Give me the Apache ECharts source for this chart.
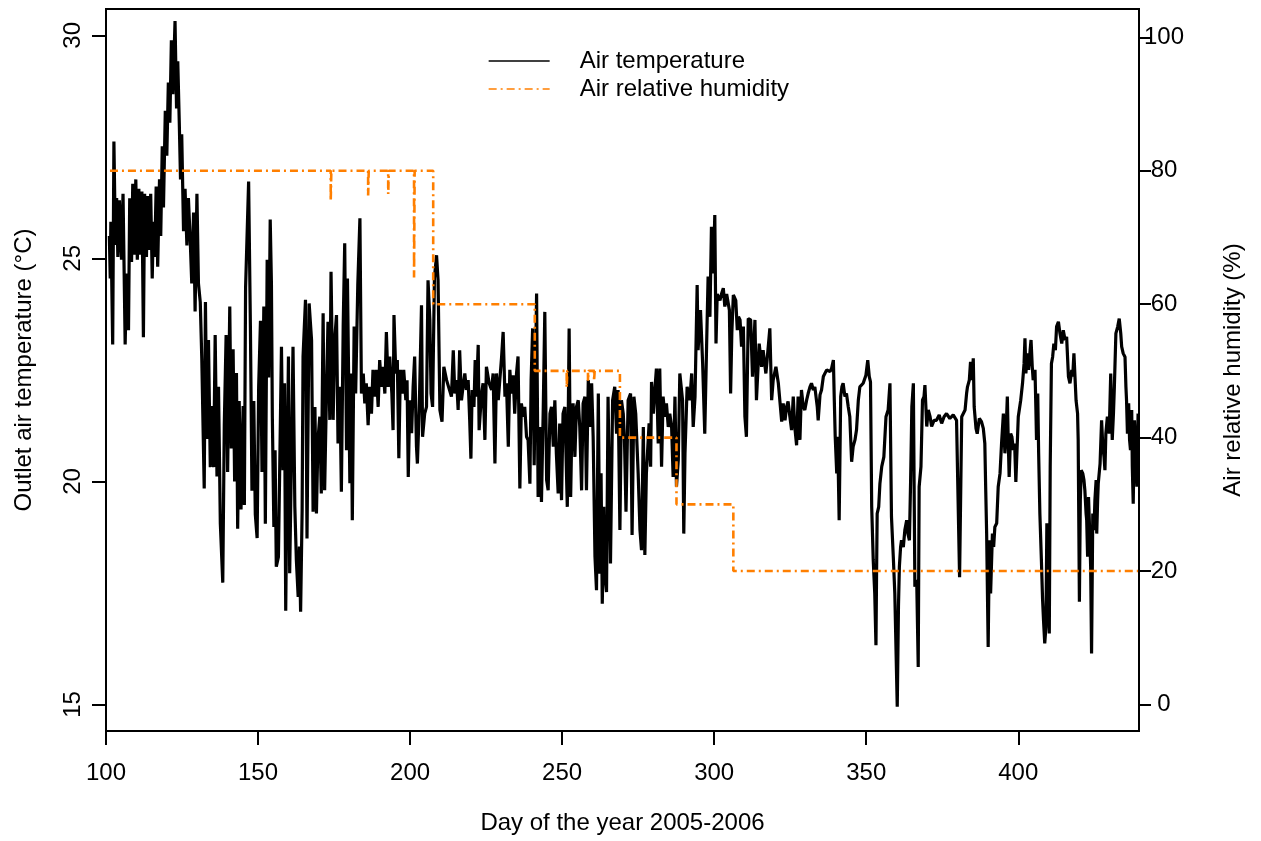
<!DOCTYPE html>
<html>
<head>
	<meta charset="utf-8">
	<title>Outlet air temperature and relative humidity</title>
	<script src="https://cdn.jsdelivr.net/npm/echarts@6/dist/echarts.min.js"></script>
	<style>
		html, body { margin: 0; padding: 0; background: #fff; }
		#main { width: 1261px; height: 841px; }
	</style>
</head>
<body>
	<div id="main"></div>
	<script>
		// tick labels
		var xTicks = [100, 150, 200, 250, 300, 350, 400];
		var tempTicks = [15, 20, 25, 30];
		var rhTicks = [0, 20, 40, 60, 80, 100];
		var seriesNames = ['Air temperature', 'Air relative humidity'];

		// [day of year, outlet air temperature in °C]
		var airTemperature = [
			[101.1,25.5],[101.4,24.55],[101.6,25.82],[102.2,23.07],[102.6,27.62],[103.1,25.3],[103.5,26.35],[103.9,25.03],
			[104.4,26.3],[105.1,24.97],[105.6,26.45],[106.3,23.07],[106.8,24.66],[107.4,23.39],[107.8,26.35],[108.4,24.92],
			[108.8,26.67],[109.3,25.08],[109.8,26.77],[110.3,24.97],[110.8,26.56],[111.3,25.08],[111.8,26.5],[112.3,23.23],
			[112.7,26.45],[113.3,25.03],[113.7,26.4],[114.3,25.19],[114.7,26.45],[115.2,24.55],[115.6,25.82],[116.0,25.03],
			[116.5,26.61],[117.0,24.81],[117.6,26.77],[118.0,25.5],[118.5,27.51],[118.9,26.14],[119.5,28.31],[120.0,27.3],
			[120.5,28.94],[121.0,28.04],[121.5,29.89],[122.0,28.68],[122.7,30.32],[123.2,28.36],[123.6,29.42],[124.1,28.04],
			[124.5,26.77],[124.9,27.78],[125.5,25.61],[126.0,26.56],[126.6,25.29],[127.1,26.35],[127.7,25.4],[128.2,24.44],
			[128.8,26.03],[129.3,23.81],[129.9,26.45],[130.4,24.44],[131.0,24.02],[131.5,22.75],[132.3,19.84],[132.7,24.02],
			[133.2,20.95],[133.7,23.17],[134.3,20.32],[134.8,21.69],[135.4,20.32],[135.9,23.28],[136.5,20.11],[137.0,22.12],
			[137.6,19.05],[138.4,17.73],[138.9,21.27],[139.5,23.28],[140.0,20.21],[140.7,23.92],[141.2,20.74],[141.8,22.96],
			[142.3,20.0],[142.9,22.43],[143.3,18.94],[143.8,21.8],[144.4,19.37],[145.1,21.69],[145.5,19.47],[145.9,24.34],
			[146.9,26.72],[147.5,23.39],[148.0,19.79],[148.6,21.8],[149.1,19.26],[149.7,18.73],[150.2,22.12],[150.8,23.6],
			[151.3,20.21],[151.9,23.92],[152.4,19.05],[153.0,24.97],[153.5,22.33],[154.0,25.87],
			[154.4,24.44],[154.7,21.45],[155.2,18.98],[155.6,20.7],[156.0,18.09],[156.7,18.31],[157.1,20.18],[157.7,23.02],
			[158.2,20.25],[158.7,22.2],[159.1,17.1],[159.6,20.55],[160.0,22.8],[160.4,17.94],[161.0,20.63],[161.5,23.02],
			[162.1,19.43],[162.6,18.24],[163.2,17.41],[163.6,18.54],[164.0,17.08],[164.5,19.36],[164.8,22.8],[165.6,24.07],
			[166.1,18.72],[166.8,23.99],[167.6,23.17],[168.1,19.32],[168.7,21.67],[169.2,19.28],[169.7,20.93],[170.3,21.45],
			[170.8,19.73],[171.4,23.77],[171.9,19.8],[172.5,21.97],[173.0,23.58],[173.6,21.38],[174.0,24.7],[174.7,21.38],
			[175.2,23.17],[175.8,23.73],[176.3,20.85],[176.9,22.12],[177.4,19.77],[178.0,23.47],[178.5,25.34],[179.1,20.7],
			[179.4,24.55],[180.2,19.96],[180.6,22.42],[181.0,19.13],[181.6,23.47],[182.1,21.97],[182.8,24.4],[183.5,25.9],
			[184.0,21.97],[184.6,22.42],[185.1,21.75],[185.6,22.2],[186.2,21.26],[186.7,22.12],[187.3,21.52],[187.8,22.5],
			[188.4,21.9],[188.9,22.5],[189.5,21.67],[190.0,22.72],[190.6,22.12],[191.1,22.57],[191.7,21.97],[192.2,23.35],
			[192.8,22.12],[193.3,22.8],[194.0,21.97],[194.4,21.15],[194.7,23.73],[195.3,22.42],[195.8,22.72],[196.3,20.52],
			[196.8,22.5],[197.4,21.97],[197.9,22.5],[198.6,21.82],[199.0,22.27],[199.4,20.1],[199.9,21.82],[200.5,21.08],
			[201.0,22.12],[201.5,22.8],[202.1,20.78],[202.4,20.4],[203.0,21.6],[203.75,23.95],[204.1,21.0],[204.8,21.52],
			[205.4,21.67],[205.9,24.51],[206.5,23.62],[206.9,21.97],[207.4,21.67],[208.0,24.55],[208.7,25.07],[209.2,24.51],
			[209.8,21.6],[210.5,21.34],[211.1,22.57],[212.0,22.27],
			[213.6,21.9],[214.2,22.94],[214.7,21.97],[215.3,22.27],[215.8,21.6],[216.3,22.94],[216.9,21.82],[217.4,22.12],
			[218.0,22.42],[218.5,22.05],[219.1,22.27],[219.6,21.37],[220.0,20.51],[220.4,22.05],[221.0,21.67],[221.4,22.72],
			[221.8,21.9],[222.4,23.06],[222.7,21.15],[223.5,21.97],[224.0,22.2],[224.6,20.93],[225.1,22.57],[226.0,22.2],
			[226.8,22.05],[227.3,22.42],[227.9,20.4],[228.4,22.42],[229.0,21.82],[229.5,22.27],[230.1,22.8],[230.6,23.35],
			[231.2,21.9],[231.7,22.2],[232.3,20.78],[232.8,22.5],[233.3,21.97],[233.9,22.38],[234.4,21.52],[235.0,22.42],
			[235.5,22.8],[236.1,19.84],[236.6,21.75],[237.2,21.45],[237.7,21.67],[238.3,21.0],[238.8,20.93],[239.4,19.95],
			[239.8,22.27],[240.3,23.43],[240.8,20.36],[241.6,24.21],[242.1,19.65],[242.7,21.22],[243.2,19.54],[243.8,21.67],
			[244.3,23.8],[244.9,20.03],[245.4,19.8],[246.0,21.52],[246.5,21.67],[247.1,20.78],[247.6,21.82],[248.1,20.63],
			[248.7,19.73],[249.2,21.3],[249.8,19.58],[250.3,21.52],[250.9,21.67],[251.7,19.43],[252.3,23.43],[252.8,19.65],
			[253.2,21.22],[253.6,21.75],[254.2,20.55],[254.7,21.67],[255.3,21.82],[255.8,21.22],[256.4,19.8],[256.9,21.75],
			[257.5,21.9],[258.0,19.8],[258.6,22.27],[259.1,21.22],[259.7,22.2],[260.2,21.0],[260.8,18.31],[261.3,17.56],
			[261.9,21.97],[262.4,17.93],[262.8,20.18],[263.2,17.26],[263.7,19.43],[264.0,17.93],[264.6,17.52],[265.1,21.9],
			[265.9,18.16],[266.6,21.82],
			[266.8,21.82],[267.3,22.12],[267.9,21.07],[268.4,22.05],[269.0,18.91],[269.5,21.82],[270.1,21.52],[270.5,20.93],
			[271.0,19.32],[271.7,21.82],[272.5,21.97],[273.0,18.8],[273.6,21.9],[274.2,21.52],[275.0,20.18],[275.6,18.91],
			[276.1,18.46],[276.7,21.22],[277.2,18.35],[277.7,20.18],[278.6,21.3],[279.1,20.33],[279.4,22.23],[280.0,21.52],
			[280.5,22.05],[281.0,22.53],[281.6,20.85],[282.1,22.53],[282.7,20.33],[283.2,21.9],[283.8,21.45],[284.3,21.75],
			[284.9,21.22],[285.4,21.52],[286.0,21.22],[286.5,20.1],[287.1,21.9],[287.6,19.88],[288.2,20.48],[288.7,22.42],
			[289.6,21.82],[290.0,18.83],[290.4,20.63],[291.1,22.12],[292.0,21.82],[292.6,22.42],[293.1,21.22],[293.7,21.9],
			[294.4,24.4],[294.7,22.94],[295.5,23.84],[296.2,22.65],[296.9,21.07],[297.5,23.02],[298.0,24.59],[298.6,23.69],
			[299.1,25.71],[299.7,24.66],[300.2,25.97],[300.6,23.09],[301.0,24.2],[301.9,24.06],[302.4,24.2],[303.0,24.33],
			[303.5,23.92],[304.1,24.2],[305.0,23.84],[305.4,21.97],[305.8,23.32],[306.3,24.18],[307.1,24.06],[307.6,23.39],
			[308.0,23.69],[308.5,23.62],[309.0,23.02],[309.6,23.47],[310.1,21.45],[310.6,21.0],[311.2,23.65],[312.0,23.62],
			[312.6,22.35],[313.4,23.62],[313.9,21.82],[314.8,23.09],[315.6,22.57],[316.1,22.94],[317.0,22.42],[317.4,22.72],
			[318.3,23.43],[318.9,21.82],[319.4,22.27],[320.3,22.57],[321.1,22.2],
			[322.2,21.34],[322.7,21.75],[323.3,21.37],[323.8,21.67],[324.3,21.79],[324.9,21.45],[325.45,21.15],[326.0,21.9],
			[326.5,21.23],[327.1,20.81],[327.6,21.9],[328.2,20.93],[328.7,22.05],[329.3,21.67],[329.8,21.6],[330.4,21.82],
			[330.9,21.97],[331.5,22.12],[332.0,22.2],[332.6,22.05],[333.1,22.12],[333.9,21.67],[334.2,21.37],[334.8,21.94],
			[335.3,22.05],[335.9,22.35],[337.0,22.5],[338.1,22.46],[338.6,22.53],[339.2,22.72],[339.5,21.82],[339.8,21.0],
			[340.3,20.18],[340.6,21.0],[341.1,19.13],[341.6,21.9],[342.0,22.12],[342.4,22.2],[343.0,21.9],[343.5,21.97],
			[344.1,21.67],[344.6,21.45],[345.2,20.44],[345.7,20.78],[346.3,20.93],[346.8,21.15],[347.4,21.82],[347.9,22.12],
			[349.0,22.2],[349.9,22.38],[350.5,22.72],[351.0,22.35],[351.4,22.23],[351.8,19.43],[352.3,18.24],[352.8,17.49],
			[353.2,16.33],[353.4,17.94],[353.6,19.28],[354.1,19.43],[354.5,19.95],[355.1,20.33],[355.8,20.55],[356.5,21.45],
			[357.2,21.6],[357.8,22.2],[358.3,19.21],[358.9,18.31],[359.4,17.49],[360.2,14.95],[360.6,17.19],[360.9,18.09],
			[361.3,18.53],[361.6,18.68],[362.2,18.53],[362.7,18.91],[363.3,19.13],[363.7,18.83],[364.2,18.68],[364.6,20.03],
			[365.0,21.67],[365.5,22.2],[365.8,19.43],[366.0,17.64],[366.6,17.79],[367.1,15.84],[367.4,19.88],[368.0,20.33],
			[368.5,21.82],[369.0,21.9],[369.3,22.16],[369.9,21.23],[370.4,21.6],[371.0,21.45],[371.5,21.23],[372.3,21.37],
			[373.1,21.37],[374.0,21.49],[374.8,21.3],[375.6,21.45],[376.4,21.52],[377.5,21.41],[378.6,21.49],[379.7,21.37],
			[380.3,21.37],[380.7,17.85],
			[381.4,21.45],[381.9,21.49],[382.5,21.6],[383.0,21.97],[383.3,22.12],[383.9,22.27],[384.3,22.68],[384.8,22.27],
			[385.2,22.76],[385.5,21.67],[386.1,21.19],[386.5,21.07],[387.2,21.41],[387.9,21.34],[388.5,21.19],[389.0,20.85],
			[389.3,19.8],[389.6,18.83],[390.1,16.29],[390.5,18.68],[390.9,17.49],[391.5,18.83],[391.9,18.53],[392.3,18.98],
			[392.9,19.06],[393.4,19.88],[394.0,20.18],[394.5,20.85],[395.1,21.52],[395.6,20.63],[395.9,20.93],[396.4,21.9],
			[396.7,20.93],[397.0,20.1],[397.5,21.07],[397.9,21.0],[398.4,20.7],[398.8,20.85],[399.2,19.99],[400.0,21.45],
			[400.8,21.82],[401.4,22.2],[401.9,22.64],[402.2,23.21],[402.5,22.42],[403.0,22.87],[403.4,22.5],[403.9,22.94],
			[404.2,23.17],[404.6,22.57],[404.9,22.27],[405.5,22.5],[405.8,21.6],[406.0,20.93],[406.4,21.97],[406.7,20.63],
			[407.1,19.28],[407.6,18.24],[408.0,17.34],[408.3,16.89],[408.7,16.37],[409.1,16.74],[409.4,19.06],[409.9,17.71],
			[410.2,16.59],[410.5,20.33],[410.9,22.64],[411.3,22.79],[411.7,23.09],[412.2,22.94],[412.6,23.47],[413.2,23.58],
			[413.7,23.32],[414.3,23.09],[414.8,23.39],[415.4,23.17],[415.9,23.24],[416.5,22.35],[417.0,22.2],[417.6,22.5],
			[417.9,22.35],[418.3,22.87],[419.0,21.82],[419.5,21.52],[419.7,20.93],[420.1,17.3],[420.4,19.58],[420.7,20.25],
			[421.2,20.18],[421.6,20.03],[421.9,19.8],[422.3,19.28],[422.5,19.13],[422.8,18.31],[423.1,19.65],[423.5,18.83],
			[423.8,18.09],[424.1,16.14],[424.5,19.28],[424.9,18.91],[425.2,19.58],[425.6,20.03],[425.8,18.83],[426.1,19.58],
			[426.3,19.95],[426.9,20.4],[427.4,21.37],[427.8,20.78],[428.2,20.55],[428.5,20.25],[428.8,21.07],[429.3,21.45],
			[429.9,21.07],[430.4,22.42],[430.9,20.93],[431.3,21.52],[431.6,22.12],[432.1,23.32],[432.7,23.47],[433.2,23.65],
			[433.7,23.32],[434.0,23.02],[434.5,22.87],[435.1,22.79],[435.4,22.12],[435.6,21.82],[435.9,21.07],[436.3,21.75],
			[436.6,20.93],[436.9,20.7],[437.3,21.6],[437.5,20.33],[437.8,19.5],[438.2,21.37],[438.6,20.7],[439.0,19.88],
			[439.4,21.52]
		];

		// [day of year, air relative humidity in %], a stepped set point
		var airHumidity = [
			[101.3,80],[173.9,75.5],[174.1,80],[186.2,76.3],[186.4,80],[192.8,76.5],[193.0,80],
			[201.3,64],[201.5,80],[207.6,60],[241.0,50],[251.5,47.5],[251.7,50],[258.5,48.5],[258.7,50],
			[260.5,48.5],[260.7,50],[269.0,40],[287.6,30],[306.3,20],[439.4,20]
		];

		var font = "'Liberation Sans', Arial, Helvetica, sans-serif";
		var black = '#000';
		var orange = '#FF7F00';

		var myChart = echarts.init(document.getElementById('main'));

		function textStyle(extra) {
			var s = { color: black, fontFamily: font, fontSize: 24, lineHeight: 24 };
			for (var k in extra) s[k] = extra[k];
			return s;
		}

		var option = {
			animation: false,
			backgroundColor: '#fff',
			grid: {
				left: 106, right: 122, top: 9, bottom: 110,
				show: true, borderColor: black, borderWidth: 2
			},
			legend: {
				orient: 'vertical',
				left: 488, top: 47,
				padding: 0,
				itemWidth: 61, itemHeight: 14, itemGap: 0,
				selectedMode: false,
				lineStyle: { width: 1.3 },
				itemStyle: { opacity: 0, borderWidth: 0 },
				// text sits a little below the key line, as in the original
				textStyle: textStyle({ lineHeight: 20, padding: [8, 0, 0, 25] }),
				data: seriesNames
			},
			xAxis: {
				type: 'value',
				min: 100, max: 439.7,
				name: 'Day of the year 2005-2006',
				nameLocation: 'middle', nameGap: 80,
				nameTextStyle: textStyle({}),
				axisLine: { show: true, onZero: false, lineStyle: { color: black, width: 2 } },
				axisTick: { show: true, length: 14, customValues: xTicks, lineStyle: { color: black, width: 2 } },
				axisLabel: textStyle({ customValues: xTicks, margin: 30 }),
				splitLine: { show: false }
			},
			yAxis: [{
				type: 'value',
				position: 'left',
				min: 14.405, max: 30.59,
				name: 'Outlet air temperature (°C)',
				nameLocation: 'middle', nameGap: 70, nameRotate: 90,
				nameTextStyle: textStyle({}),
				axisLine: { show: true, onZero: false, lineStyle: { color: black, width: 2 } },
				axisTick: { show: true, length: 14, customValues: tempTicks, lineStyle: { color: black, width: 2 } },
				axisLabel: textStyle({ customValues: tempTicks, rotate: 90, margin: 21 }),
				splitLine: { show: false }
			}, {
				type: 'value',
				position: 'right',
				min: -3.97, max: 104.24,
				name: 'Air relative humidity (%)',
				nameLocation: 'middle', nameGap: 82, nameRotate: 90,
				nameTextStyle: textStyle({}),
				axisLine: { show: true, onZero: false, lineStyle: { color: black, width: 2 } },
				axisTick: { show: true, length: 12, customValues: rhTicks, lineStyle: { color: black, width: 2 } },
				axisLabel: textStyle({ customValues: rhTicks, margin: 25, align: 'center', padding: [9, 0, 0, 0] }),
				splitLine: { show: false }
			}],
			series: [{
				name: seriesNames[0],
				type: 'line',
				yAxisIndex: 0,
				data: airTemperature,
				symbol: 'none',
				showSymbol: false,
				color: black,
				lineStyle: { color: black, width: 3.2 }
			}, {
				name: seriesNames[1],
				type: 'line',
				yAxisIndex: 1,
				step: 'end',
				data: airHumidity,
				symbol: 'none',
				showSymbol: false,
				color: orange,
				lineStyle: { color: orange, width: 2.6, type: [8, 4, 2, 4] }
			}]
		};

		myChart.setOption(option);
	</script>
</body>
</html>
